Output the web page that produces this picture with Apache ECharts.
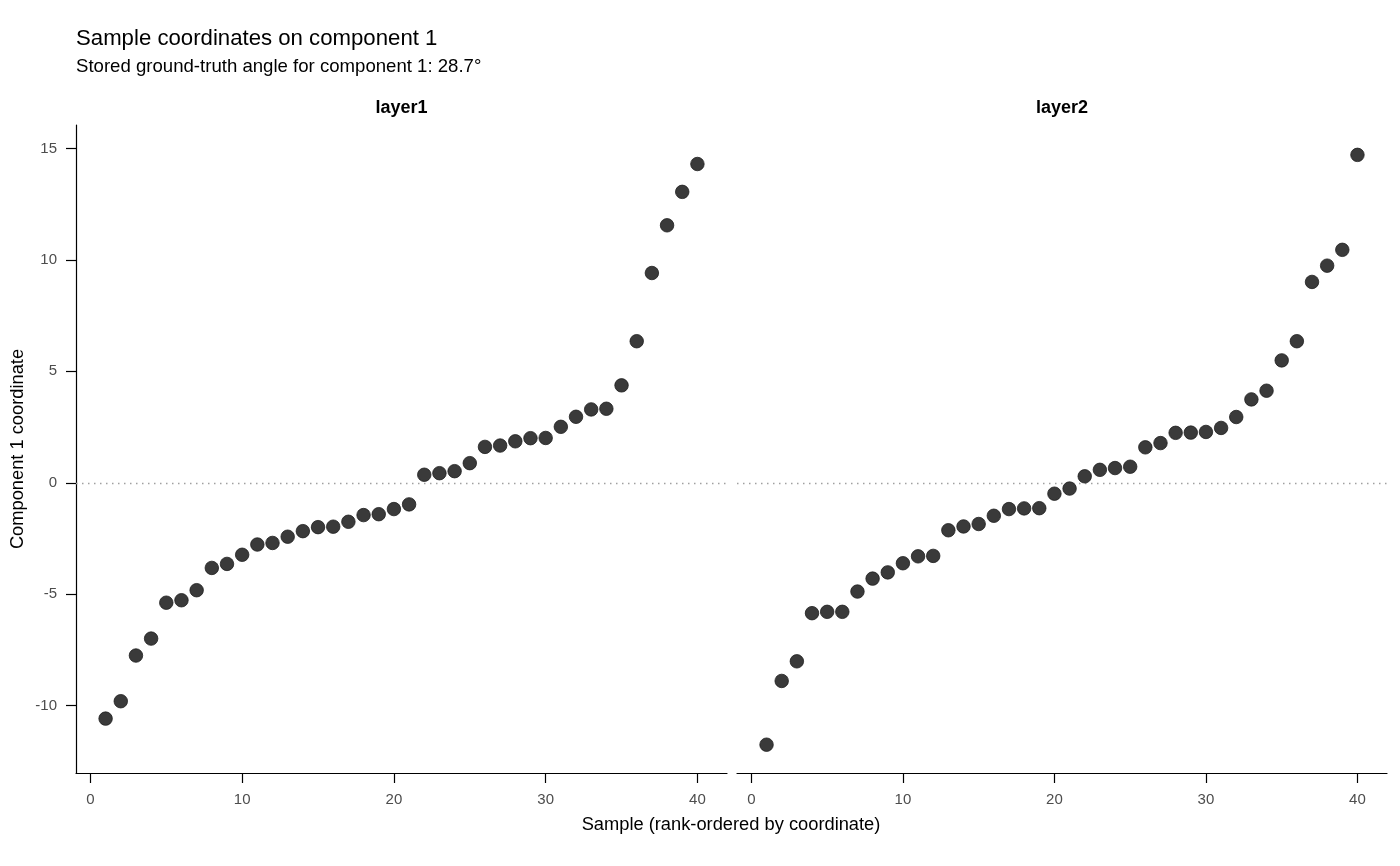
<!DOCTYPE html>
<html lang="en">
<head>
    <meta charset="UTF-8">
    <title>Sample coordinates on component 1</title>
    <script src="https://cdn.jsdelivr.net/npm/echarts@6/dist/echarts.min.js"></script>
    <style>
        html, body { margin: 0; padding: 0; background: #fff; }
        #chart { width: 1400px; height: 866px; }
    </style>
</head>
<body>
<div id="chart"></div>
<script>
    // rank of each sample (1..40)
    const ranks = Array.from({ length: 40 }, (_, i) => i + 1);

    // component 1 coordinate
    const layer1 = [-10.58, -9.80, -7.75, -6.99, -5.38, -5.27, -4.82, -3.82, -3.64, -3.23,
        -2.77, -2.70, -2.42, -2.17, -1.99, -1.97, -1.75, -1.45, -1.41, -1.18,
        -0.97, 0.36, 0.43, 0.52, 0.88, 1.61, 1.67, 1.86, 2.00, 2.01,
        2.51, 2.96, 3.29, 3.32, 4.37, 6.35, 9.41, 11.55, 13.05, 14.30];
    const layer2 = [-11.75, -8.89, -8.01, -5.85, -5.79, -5.79, -4.88, -4.30, -4.02, -3.61,
        -3.30, -3.28, -2.13, -1.96, -1.85, -1.48, -1.18, -1.15, -1.14, -0.49,
        -0.26, 0.29, 0.58, 0.66, 0.72, 1.59, 1.78, 2.24, 2.25, 2.28,
        2.46, 2.95, 3.74, 4.13, 5.49, 6.35, 9.01, 9.74, 10.45, 14.71];

    const panelNames = ['layer1', 'layer2'];
    const xTicks = [0, 10, 20, 30, 40];
    const yTicks = [-10, -5, 0, 5, 10, 15];

    const font = 'Liberation Sans, Arial, sans-serif';
    const chart = echarts.init(document.getElementById('chart'));

    function xAxisFor(idx) {
        return {
            type: 'value', gridIndex: idx, min: -0.95, max: 41.95,
            splitLine: { show: false },
            axisLine: { onZero: false, lineStyle: { color: '#000', width: 1.2 } },
            axisTick: { length: 10, customValues: xTicks, lineStyle: { color: '#000', width: 1.2 } },
            axisLabel: { customValues: xTicks, margin: 19, color: '#4d4d4d', fontSize: 15, fontFamily: font }
        };
    }

    function yAxisFor(idx) {
        const show = idx === 0;
        return {
            type: 'value', gridIndex: idx, min: -13.02, max: 16.05,
            splitLine: { show: false },
            axisLine: { show: show, onZero: false, lineStyle: { color: '#000', width: 1.2 } },
            axisTick: { show: show, length: 10, customValues: yTicks, lineStyle: { color: '#000', width: 1.2 } },
            axisLabel: { show: show, customValues: yTicks, margin: 19, color: '#4d4d4d', fontSize: 15, fontFamily: font }
        };
    }

    function seriesFor(idx, values) {
        return {
            type: 'scatter', xAxisIndex: idx, yAxisIndex: idx,
            data: ranks.map((r, i) => [r, values[i]]),
            symbol: 'circle', symbolSize: 13.5,
            itemStyle: { color: '#3a3a3a', borderColor: '#1e1e1e', borderWidth: 0.8, opacity: 1 },
            markLine: {
                silent: true, symbol: 'none', label: { show: false },
                lineStyle: { color: '#a0a0a0', type: [1.5, 4.5], width: 1.3 },
                data: [{ yAxis: 0 }],
                z: 1
            },
            z: 3
        };
    }

    function text(str, x, y, size, opts) {
        return Object.assign({
            type: 'text', x: x, y: y,
            style: {
                text: str, fontSize: size, fontFamily: font, fill: '#000',
                align: 'left', verticalAlign: 'middle',
                textAlign: 'left', textVerticalAlign: 'middle'
            }
        }, opts || {});
    }

    const option = {
        backgroundColor: '#fff',
        animation: false,
        grid: [
            { left: 76, top: 125, width: 651, height: 648, outerBoundsMode: 'none' },
            { left: 737, top: 125, width: 650, height: 648, outerBoundsMode: 'none' }
        ],
        xAxis: [xAxisFor(0), xAxisFor(1)],
        yAxis: [yAxisFor(0), yAxisFor(1)],
        series: [seriesFor(0, layer1), seriesFor(1, layer2)],
        graphic: [
            text('Sample coordinates on component 1', 76, 39, 22.2),
            text('Stored ground-truth angle for component 1: 28.7\u00b0', 76, 67, 18.6),
            {
                type: 'text', x: 401.5, y: 108,
                style: { text: panelNames[0], fontSize: 18, fontWeight: 'bold', fontFamily: font, fill: '#000',
                    align: 'center', verticalAlign: 'middle', textAlign: 'center', textVerticalAlign: 'middle' }
            },
            {
                type: 'text', x: 1062, y: 108,
                style: { text: panelNames[1], fontSize: 18, fontWeight: 'bold', fontFamily: font, fill: '#000',
                    align: 'center', verticalAlign: 'middle', textAlign: 'center', textVerticalAlign: 'middle' }
            },
            {
                type: 'text', x: 731, y: 825,
                style: { text: 'Sample (rank-ordered by coordinate)', fontSize: 18.3, fontFamily: font, fill: '#000',
                    align: 'center', verticalAlign: 'middle', textAlign: 'center', textVerticalAlign: 'middle' }
            },
            {
                type: 'text', x: 18, y: 449, rotation: Math.PI / 2,
                style: { text: 'Component 1 coordinate', fontSize: 18.3, fontFamily: font, fill: '#000',
                    align: 'center', verticalAlign: 'middle', textAlign: 'center', textVerticalAlign: 'middle' }
            }
        ]
    };

    chart.setOption(option);
</script>
</body>
</html>
